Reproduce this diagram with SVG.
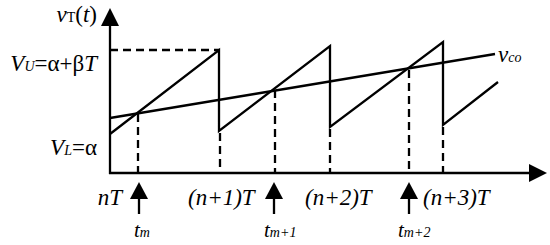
<svg xmlns="http://www.w3.org/2000/svg" width="550" height="245" viewBox="0 0 550 245">
<style>
.ln{fill:none;stroke:#000;stroke-width:2.3}
.dash{fill:none;stroke:#000;stroke-width:2.3;stroke-dasharray:8 5}
.ah{fill:#000;stroke:none}
.t{font-family:"Liberation Serif","Times New Roman",serif;font-style:italic;font-size:23px;fill:#000}
.up{font-style:normal}
.sub{font-size:14px}
.s{font-family:"Liberation Serif","Times New Roman",serif;font-style:italic;font-size:21px;fill:#000}
.e{text-anchor:end}
</style>
<rect width="550" height="245" fill="#fff"/>
<g id="axes">
<line class="ln" x1="110" y1="174" x2="110" y2="24"/>
<polygon class="ah" points="110,8 101,26 119,26"/>
<line class="ln" x1="109" y1="173" x2="531" y2="173"/>
<polygon class="ah" points="547,173 529,164 529,182"/>
</g>
<g id="connectors">
<polyline id="sawtooth" class="ln" points="110,134 219,50 219,131 330,46 330,127 443,42 443,125 498,82"/>
<line id="vco-line" class="ln" x1="110" y1="118" x2="495" y2="54"/>
<line class="dash" x1="110" y1="50" x2="219" y2="50"/>
<line class="dash" x1="138" y1="114" x2="138" y2="173"/>
<line class="dash" x1="220" y1="133" x2="220" y2="173"/>
<line class="dash" x1="275" y1="90" x2="275" y2="173"/>
<line class="dash" x1="330" y1="129" x2="330" y2="173"/>
<line class="dash" x1="409" y1="70" x2="409" y2="173"/>
<line class="dash" x1="443" y1="127" x2="443" y2="173"/>
</g>
<g id="time-arrows">
<line class="ln" x1="139" y1="214" x2="139" y2="196"/>
<polygon class="ah" points="139,182 130,199 148,199"/>
<line class="ln" x1="274" y1="214" x2="274" y2="196"/>
<polygon class="ah" points="274,182 265,199 283,199"/>
<line class="ln" x1="409" y1="214" x2="409" y2="196"/>
<polygon class="ah" points="409,182 400,199 418,199"/>
</g>
<g id="label-vt"><text class="t e" x="97" y="22">v<tspan class="sub up">T</tspan><tspan class="up">(</tspan>t<tspan class="up">)</tspan></text></g>
<g id="label-vu"><text class="t e" x="97" y="71">V<tspan class="sub">U</tspan><tspan class="up">=α+β</tspan>T</text></g>
<g id="label-vl"><text class="t e" x="97" y="155">V<tspan class="sub">L</tspan><tspan class="up">=α</tspan></text></g>
<g id="label-vco"><text class="t" x="498" y="62">v<tspan class="sub">co</tspan></text></g>
<g id="label-nT"><text class="t e" x="122" y="205">nT</text></g>
<g id="label-n1T"><text class="t" x="188" y="205">(n+1)T</text></g>
<g id="label-n2T"><text class="t" x="305" y="205">(n+2)T</text></g>
<g id="label-n3T"><text class="t" x="423" y="205">(n+3)T</text></g>
<g id="label-tm"><text class="s" x="134" y="237">t<tspan class="sub">m</tspan></text></g>
<g id="label-tm1"><text class="s" x="264" y="237">t<tspan class="sub">m+1</tspan></text></g>
<g id="label-tm2"><text class="s" x="398" y="237">t<tspan class="sub">m+2</tspan></text></g>
</svg>
